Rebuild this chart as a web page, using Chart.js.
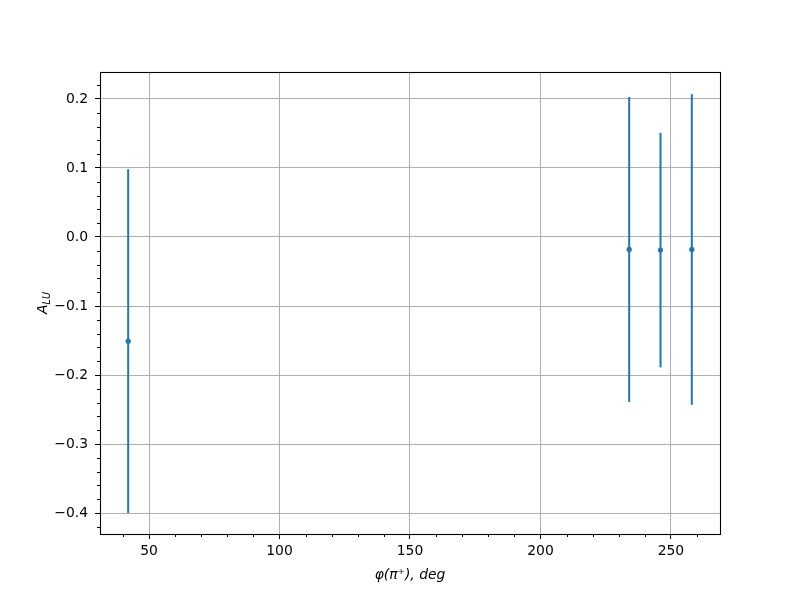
<!DOCTYPE html>
<html>
<head>
<meta charset="utf-8">
<script src="https://cdn.jsdelivr.net/npm/chart.js@4"></script>
<style>
  body { margin: 0; background: #fff; }
</style>
</head>
<body>
<canvas id="chart" width="800" height="600"></canvas>
<script>
const phi = [42, 234, 246, 258];
const alu = [-0.151, -0.018, -0.019, -0.018];
const aluErr = [0.249, 0.221, 0.170, 0.225];
const xMinorTicks = [40, 60, 70, 80, 90, 110, 120, 130, 140, 160, 170, 180, 190, 210, 220, 230, 240, 260];
const yMinorTicks = [-0.42, -0.38, -0.36, -0.34, -0.32, -0.28, -0.26, -0.24, -0.22, -0.18, -0.16, -0.14, -0.12,
    -0.08, -0.06, -0.04, -0.02, 0.02, 0.04, 0.06, 0.08, 0.12, 0.14, 0.16, 0.18, 0.22];

const blue = '#1f77b4';
const fontFamily = "'DejaVu Sans', sans-serif";

// error bars, minor ticks, frame and y title drawn with the chart's own scales
const extras = {
    id: 'extras',
    beforeDatasetsDraw(chart) {
        const ctx = chart.ctx;
        const x = chart.scales.x, y = chart.scales.y;
        ctx.save();
        ctx.strokeStyle = blue;
        ctx.lineWidth = 2;
        for (let i = 0; i < phi.length; i++) {
            const px = x.getPixelForValue(phi[i]);
            ctx.beginPath();
            ctx.moveTo(px, y.getPixelForValue(alu[i] - aluErr[i]));
            ctx.lineTo(px, y.getPixelForValue(alu[i] + aluErr[i]));
            ctx.stroke();
        }
        ctx.restore();
    },
    afterDraw(chart) {
        const ctx = chart.ctx;
        const area = chart.chartArea;
        const x = chart.scales.x, y = chart.scales.y;
        ctx.save();
        ctx.strokeStyle = '#000';
        ctx.lineWidth = 1;
        ctx.beginPath();
        xMinorTicks.forEach(v => {
            const px = Math.round(x.getPixelForValue(v)) + 0.5;
            ctx.moveTo(px, area.bottom);
            ctx.lineTo(px, area.bottom + 3);
        });
        yMinorTicks.forEach(v => {
            const py = Math.round(y.getPixelForValue(v)) + 0.5;
            ctx.moveTo(area.left, py);
            ctx.lineTo(area.left - 3, py);
        });
        ctx.stroke();
        ctx.lineWidth = 1.1;
        ctx.strokeRect(area.left + 0.5, area.top + 0.5, area.right - area.left, area.bottom - area.top);

        // y axis title: A with subscript LU
        ctx.translate(42, (area.top + area.bottom) / 2);
        ctx.rotate(-Math.PI / 2);
        ctx.fillStyle = '#000';
        ctx.textBaseline = 'alphabetic';
        ctx.font = "italic 13.9px " + fontFamily;
        const wA = ctx.measureText('A').width;
        ctx.font = "italic 9.7px " + fontFamily;
        const wLU = ctx.measureText('LU').width;
        const start = -(wA + wLU) / 2;
        ctx.font = "italic 13.9px " + fontFamily;
        ctx.fillText('A', start, 5);
        ctx.font = "italic 9.7px " + fontFamily;
        ctx.fillText('LU', start + wA, 8);
        ctx.restore();
    }
};

new Chart(document.getElementById('chart').getContext('2d'), {
    type: 'scatter',
    data: {
        datasets: [{
            data: phi.map((v, i) => ({ x: v, y: alu[i] })),
            backgroundColor: blue,
            borderColor: blue,
            borderWidth: 0,
            pointRadius: 2.6,
            pointHoverRadius: 2.6
        }]
    },
    options: {
        responsive: false,
        animation: false,
        layout: { padding: { left: 0, right: 80, top: 72, bottom: 0 } },
        plugins: {
            legend: { display: false },
            tooltip: { enabled: false }
        },
        scales: {
            x: {
                type: 'linear',
                min: 31.2,
                max: 268.8,
                afterFit: s => { s.height = 66; },
                border: { display: false },
                grid: { color: '#b0b0b0', lineWidth: 1, tickColor: '#000', tickLength: 5 },
                ticks: {
                    stepSize: 50,
                    includeBounds: false,
                    padding: 4,
                    color: '#000',
                    font: { family: fontFamily, size: 13.9 }
                },
                title: {
                    display: true,
                    text: 'φ(π⁺), deg',
                    color: '#000',
                    font: { family: fontFamily, size: 13.9, style: 'italic' },
                    padding: { top: 0, bottom: 16 }
                }
            },
            y: {
                min: -0.4304,
                max: 0.2391,
                afterFit: s => { s.width = 100; },
                border: { display: false },
                grid: { color: '#b0b0b0', lineWidth: 1, tickColor: '#000', tickLength: 5 },
                ticks: {
                    stepSize: 0.1,
                    includeBounds: false,
                    padding: 7,
                    color: '#000',
                    font: { family: fontFamily, size: 13.9 },
                    callback: v => (v < -1e-9 ? '−' : '') + Math.abs(v).toFixed(1)
                }
            }
        }
    },
    plugins: [extras]
});
</script>
</body>
</html>
